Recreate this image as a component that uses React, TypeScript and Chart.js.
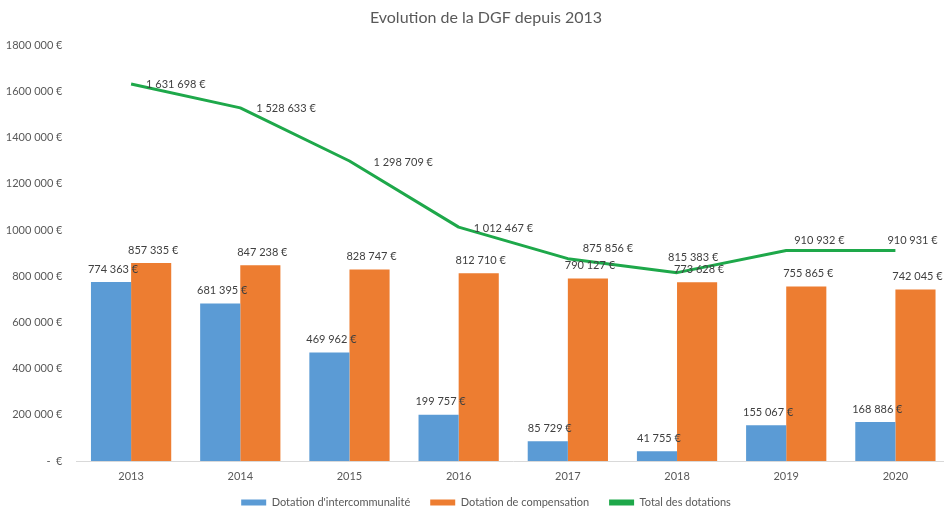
import React, { useEffect, useRef } from "react";
import { Chart, registerables } from "chart.js";

Chart.register(...registerables);

const categories = ["2013", "2014", "2015", "2016", "2017", "2018", "2019", "2020"];
const intercommunalite = [774363, 681395, 469962, 199757, 85729, 41755, 155067, 168886];
const compensation = [857335, 847238, 828747, 812710, 790127, 773628, 755865, 742045];
const totalDotations = [1631698, 1528633, 1298709, 1012467, 875856, 815383, 910932, 910931];
const seriesNames = ["Dotation d'intercommunalité", "Dotation de compensation", "Total des dotations"];
const yTickValues = [0, 200000, 400000, 600000, 800000, 1000000, 1200000, 1400000, 1600000, 1800000];
const yTickLabels = [
  "-  €", "200 000 €", "400 000 €", "600 000 €", "800 000 €",
  "1000 000 €", "1200 000 €", "1400 000 €", "1600 000 €", "1800 000 €",
];
const titleText = "Evolution de la DGF depuis 2013";

const fmt = (v: number) => v.toString().replace(/\B(?=(\d{3})+(?!\d))/g, " ") + " €";

// label placement for line points (offsets relative to the point, style only)
const lineLabelOffsets: [number, number][] = [
  [15, 0], [16, 1], [24, 1], [15, 1], [15, -10], [-9, -15], [8, -10], [-8, -10],
];

const valueLabels = {
  id: "valueLabels",
  afterDatasetsDraw(chart: any) {
    const ctx = chart.ctx;
    ctx.save();
    ctx.font = "11px Lato";
    ctx.fillStyle = "#404040";
    ctx.textBaseline = "middle";
    chart.data.datasets.forEach((ds: any, di: number) => {
      const meta = chart.getDatasetMeta(di);
      meta.data.forEach((el: any, i: number) => {
        const text = fmt(ds.data[i]);
        if (meta.type === "bar") {
          ctx.textAlign = "center";
          ctx.fillText(text, el.x + 2, el.y - 13);
        } else {
          const [dx, dy] = lineLabelOffsets[i];
          ctx.textAlign = "left";
          ctx.fillText(text, el.x + dx, el.y + dy);
        }
      });
    });
    ctx.restore();
  },
};

// widen the label areas of the scales so their tick labels are not clipped
const labelAreaTweak = {
  id: "labelAreaTweak",
  afterLayout(chart: any) {
    const y = chart.scales.y;
    const x = chart.scales.x;
    if (y) y.left = 0;
    if (x) x.bottom = x.top + 26;
  },
};

export default function App() {
  const ref = useRef<HTMLCanvasElement | null>(null);
  useEffect(() => {
    if (!ref.current) return;
    Chart.defaults.font.family = "Lato";
    const chart = new Chart(ref.current, {
      type: "bar",
      data: {
        labels: categories,
        datasets: [
          {
            type: "bar",
            label: seriesNames[0],
            data: intercommunalite,
            backgroundColor: "#5B9BD5",
            order: 2,
          },
          {
            type: "bar",
            label: seriesNames[1],
            data: compensation,
            backgroundColor: "#ED7D31",
            order: 2,
          },
          {
            type: "line",
            label: seriesNames[2],
            data: totalDotations,
            borderColor: "#1EA84A",
            backgroundColor: "#1EA84A",
            borderWidth: 3,
            pointRadius: 0,
            tension: 0,
            borderJoinStyle: "round",
            order: 1,
          } as any,
        ],
      },
      options: {
        responsive: false,
        animation: false,
        layout: { padding: { left: 22, right: 0, top: 0, bottom: 0 } },
        datasets: {
          bar: { categoryPercentage: 0.735, barPercentage: 1 },
        } as any,
        plugins: {
          title: {
            display: true,
            text: titleText,
            color: "#595959",
            font: { size: 16, weight: "normal", family: "Lato" },
            padding: { top: 8, bottom: 18 },
          },
          legend: {
            position: "bottom",
            labels: {
              boxWidth: 25,
              boxHeight: 6,
              padding: 20,
              color: "#595959",
              font: { size: 11, family: "Lato" },
              generateLabels: (chart: any) =>
                chart.data.datasets.map((ds: any, i: number) => ({
                  text: ds.label,
                  fillStyle: ds.type === "line" ? ds.borderColor : ds.backgroundColor,
                  strokeStyle: ds.type === "line" ? ds.borderColor : ds.backgroundColor,
                  lineWidth: 0,
                  fontColor: "#595959",
                  hidden: false,
                  datasetIndex: i,
                })),
            },
          },
          tooltip: { enabled: false },
        },
        scales: {
          x: {
            grid: { display: false, drawTicks: false },
            border: { display: true, color: "#D9D9D9", width: 1 },
            ticks: { color: "#595959", font: { size: 11 }, padding: 9 },
            afterFit: (s: any) => {
              s.height = 16;
            },
          },
          y: {
            min: 0,
            max: 1800000,
            grid: { display: false, drawTicks: false },
            border: { display: false },
            afterBuildTicks: (s: any) => {
              s.ticks = yTickValues.map((v) => ({ value: v }));
            },
            ticks: {
              color: "#595959",
              font: { size: 11 },
              padding: 14,
              callback: (v: any) => {
                const idx = yTickValues.indexOf(Number(v));
                return idx >= 0 ? yTickLabels[idx] : "";
              },
            },
            afterFit: (s: any) => {
              s.width = 54.5;
            },
          },
        },
      },
      plugins: [valueLabels, labelAreaTweak],
    });
    return () => chart.destroy();
  }, []);

  return (
    <div
      style={{
        position: "fixed",
        left: 0,
        top: 0,
        width: 944,
        height: 509,
        overflow: "hidden",
        background: "#fff",
      }}
    >
      <canvas ref={ref} width={950} height={518} style={{ display: "block" }} />
    </div>
  );
}
